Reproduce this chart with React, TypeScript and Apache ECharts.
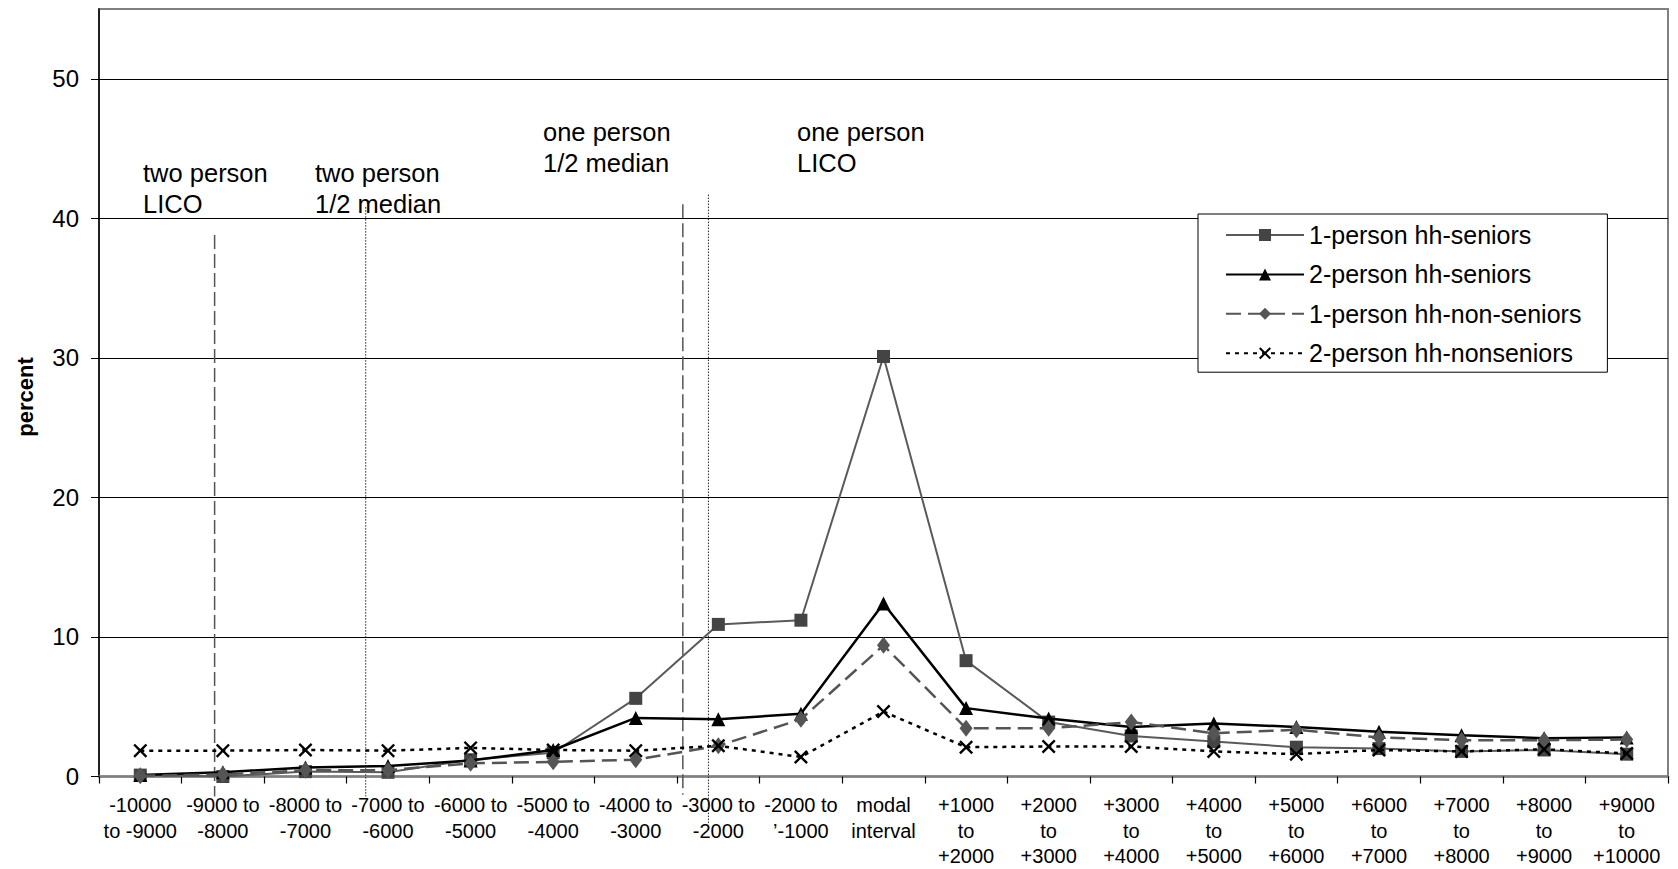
import React, { useEffect, useRef } from "react";
import * as echarts from "echarts";

const FONT = '"Liberation Sans", Arial, Helvetica, sans-serif';

const categories = [
  "-10000\nto -9000",
  "-9000 to\n-8000",
  "-8000 to\n-7000",
  "-7000 to\n-6000",
  "-6000 to\n-5000",
  "-5000 to\n-4000",
  "-4000 to\n-3000",
  "-3000 to\n-2000",
  "-2000 to\n\u2019-1000",
  "modal\ninterval",
  "+1000\nto\n+2000",
  "+2000\nto\n+3000",
  "+3000\nto\n+4000",
  "+4000\nto\n+5000",
  "+5000\nto\n+6000",
  "+6000\nto\n+7000",
  "+7000\nto\n+8000",
  "+8000\nto\n+9000",
  "+9000\nto\n+10000",
];

const seniors1 = [0.1, 0.0, 0.35, 0.3, 1.2, 1.7, 5.6, 10.9, 11.2, 30.1, 8.3, 3.9, 2.9, 2.5, 2.1, 2.0, 1.8, 1.9, 1.6];
const seniors2 = [0.1, 0.3, 0.65, 0.75, 1.15, 1.9, 4.2, 4.1, 4.5, 12.4, 4.9, 4.15, 3.55, 3.8, 3.55, 3.2, 2.95, 2.75, 2.8];
const nonSeniors1 = [0.05, 0.15, 0.45, 0.45, 0.95, 1.05, 1.2, 2.2, 4.1, 9.4, 3.45, 3.45, 3.9, 3.1, 3.35, 2.8, 2.6, 2.6, 2.65];
const nonSeniors2 = [1.85, 1.85, 1.9, 1.85, 2.05, 1.9, 1.85, 2.2, 1.4, 4.65, 2.1, 2.15, 2.15, 1.8, 1.6, 1.9, 1.8, 1.95, 1.65];

const seriesNames = [
  "1-person hh-seniors",
  "2-person hh-seniors",
  "1-person hh-non-seniors",
  "2-person hh-nonseniors",
];

const yTicks = [0, 10, 20, 30, 40, 50];
const yAxisTitle = "percent";

// threshold lines, in category units along the x axis
const thresholdX = [1.4, 3.23, 7.07, 7.38];
const thresholdTop = [38.8, 40.8, 41.0, 41.7];
const thresholdBottom = [-1.43, -1.43, -1.3, -3.45];

const annotationTexts = [
  "two person\nLICO",
  "two person\n1/2 median",
  "one person\n1/2 median",
  "one person\nLICO",
];

const X_SYMBOL =
  "path://M0,1.2L1.2,0L5,3.8L8.8,0L10,1.2L6.2,5L10,8.8L8.8,10L5,6.2L1.2,10L0,8.8L3.8,5Z";

export default function App() {
  const ref = useRef<HTMLDivElement>(null);

  useEffect(() => {
    if (!ref.current) return;
    const chart = echarts.init(ref.current, undefined, { renderer: "svg" });

    const annPos = [
      { left: 143, top: 157.5 },
      { left: 315, top: 157.5 },
      { left: 543, top: 116.5 },
      { left: 797, top: 116.5 },
    ];

    const refSeries = thresholdX.map((x, i) => ({
      name: "ref" + i,
      type: "line",
      xAxisIndex: 1,
      yAxisIndex: 0,
      data: [
        [x, thresholdTop[i]],
        [x, thresholdBottom[i]],
      ],
      symbol: "none",
      clip: false,
      silent: true,
      z: 1,
      lineStyle:
        i % 2 === 0
          ? { color: "#555", width: 1.5, type: [14, 5] }
          : { color: "#222", width: 1, type: [1.5, 1.5] },
    }));

    const option: any = {
      animation: false,
      backgroundColor: "#fff",
      textStyle: { fontFamily: FONT },
      grid: {
        left: 99,
        right: 10,
        top: 9,
        bottom: 92,
        show: true,
        borderColor: "#808080",
        borderWidth: 2,
        backgroundColor: "transparent",
      },
      legend: {
        data: seriesNames,
        orient: "vertical",
        left: 1198,
        top: 214,
        backgroundColor: "#fff",
        borderColor: "#000",
        borderWidth: 1,
        padding: [7, 26, 5, 27],
        itemWidth: 78,
        itemHeight: 15,
        itemGap: 11.4,
        textStyle: { fontSize: 25, lineHeight: 28, color: "#000", fontFamily: FONT },
      },
      xAxis: [
        {
          type: "category",
          data: categories,
          boundaryGap: true,
          axisLine: { lineStyle: { color: "#808080", width: 2.5 } },
          axisTick: { show: true, interval: 0, length: 7, lineStyle: { color: "#000", width: 1.2 } },
          axisLabel: {
            interval: 0,
            fontSize: 20,
            lineHeight: 25.5,
            color: "#000",
            margin: 16,
            fontFamily: FONT,
          },
          splitLine: { show: false },
        },
        { type: "value", min: 0, max: 19, show: false },
      ],
      yAxis: {
        type: "value",
        min: 0,
        max: 55,
        interval: 10,
        axisLine: { show: true, lineStyle: { color: "#000", width: 1.5 } },
        axisTick: { show: true, length: 8, lineStyle: { color: "#000" }, customValues: yTicks },
        axisLabel: {
          fontSize: 24,
          color: "#000",
          margin: 20,
          customValues: yTicks,
          fontFamily: FONT,
        },
        splitLine: {
          show: true,
          showMinLine: false,
          lineStyle: { color: "#000", width: 1 },
        },
      },
      graphic: [
        ...annotationTexts.map((t, i) => ({
          type: "text",
          left: annPos[i].left,
          top: annPos[i].top,
          z: 10,
          style: {
            text: t,
            fontSize: 25.5,
            fontFamily: FONT,
            lineHeight: 31,
            fill: "#000",
          },
        })),
        {
          type: "text",
          x: 25,
          y: 397,
          rotation: Math.PI / 2,
          z: 10,
          style: {
            text: yAxisTitle,
            fontSize: 22,
            fontWeight: "bold",
            fontFamily: FONT,
            fill: "#000",
            align: "center",
            verticalAlign: "middle",
          },
        },
      ],
      series: [
        ...refSeries,
        {
          name: seriesNames[0],
          type: "line",
          data: seniors1,
          symbol: "rect",
          symbolSize: 13,
          lineStyle: { color: "#5a5a5a", width: 2 },
          itemStyle: { color: "#444" },
          z: 3,
        },
        {
          name: seriesNames[1],
          type: "line",
          data: seniors2,
          symbol: "triangle",
          symbolSize: 14,
          lineStyle: { color: "#000", width: 2.5 },
          itemStyle: { color: "#000" },
          z: 4,
        },
        {
          name: seriesNames[2],
          type: "line",
          data: nonSeniors1,
          symbol: "diamond",
          symbolSize: [13, 17],
          lineStyle: { color: "#555", width: 2.5, type: [15, 7] },
          itemStyle: { color: "#555" },
          z: 5,
        },
        {
          name: seriesNames[3],
          type: "line",
          data: nonSeniors2,
          symbol: X_SYMBOL,
          symbolSize: 14,
          lineStyle: { color: "#000", width: 2.5, type: [4, 5] },
          itemStyle: { color: "#000" },
          z: 6,
        },
      ],
    };

    chart.setOption(option);
    return () => chart.dispose();
  }, []);

  return (
    <div
      ref={ref}
      style={{ position: "absolute", left: 0, top: 0, width: 1678, height: 869 }}
    />
  );
}
